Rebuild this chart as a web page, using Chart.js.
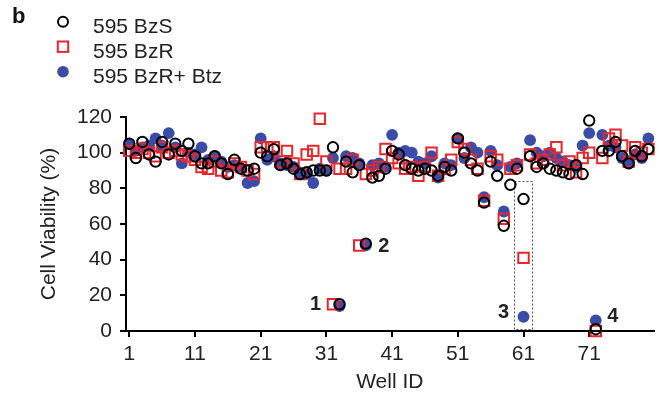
<!DOCTYPE html>
<html>
<head>
<meta charset="utf-8">
<script src="https://cdn.jsdelivr.net/npm/chart.js@4.4.1/dist/chart.umd.min.js"></script>
<style>
  html, body { margin: 0; padding: 0; background: #fff; }
  #wrap { width: 663px; height: 401px; position: relative; }
</style>
</head>
<body>
<div id="wrap"><canvas id="viabilityChart"></canvas></div>
<script>
// well IDs on the plate
var wells = [1, 2, 3, 4, 5, 6, 7, 8, 9, 10, 11, 12, 13, 14, 15, 16, 17, 18, 19, 20,
             21, 22, 23, 24, 25, 26, 27, 28, 29, 30, 31, 32, 33, 34, 35, 36, 37, 38, 39, 40,
             41, 42, 43, 44, 45, 46, 47, 48, 49, 50, 51, 52, 53, 54, 55, 56, 57, 58, 59, 60,
             61, 62, 63, 64, 65, 66, 67, 68, 69, 70, 71, 72, 73, 74, 75, 76, 77, 78, 79, 80];

// cell viability (%) per well
var bzS = [105, 97, 106, 99, 95, 106, 99, 105, 101, 105, 98, 94, 94, 98, 94, 88, 96, 91, 90, 91,
           100, 98, 102, 93, 94, 91, 88, 89, 90, 90, 90, 103, 15, 95, 89, 93, 49, 86, 87, 91,
           101, 99, 93, 91, 90, 91, 90, 87, 92, 90, 108, 100, 94, 90, 72, 95, 87, 59, 82, 91,
           74, 98, 92, 94, 91, 90, 89, 88, 93, 88, 118, 1, 101, 101, 106, 98, 94, 101, 98, 102];

var bzR = [101, 100, 102, 100, 98, 103, 100, 101, 99, 98, 96, 92, 91, 95, 90, 89, 94, 92, 90, 88,
           103, 103, 103, 95, 101, 94, 88, 99, 101, 119, 95, 15, 91, 91, 96, 48, 88, 90, 92, 102,
           97, 94, 91, 92, 87, 92, 100, 87, 91, 96, 106, 102, 96, 91, 73, 98, 96, 63, 91, 93,
           41, 99, 94, 96, 99, 103, 93, 95, 89, 97, 100, 0, 97, 108, 110, 104, 95, 103, 100, 102];

var bzRBtz = [105, 101, 103, 104, 108, 104, 111, 103, 94, 100, 99, 103, 96, 98, 95, 92, 93, 91, 83, 84,
              108, 96, 98, 94, 93, 92, 89, 88, 83, 91, 90, 97, 14, 98, 97, 94, 48, 93, 94, 92,
              110, 100, 101, 100, 95, 94, 98, 86, 94, 93, 108, 97, 103, 100, 75, 101, 93, 67, 92, 94,
              8, 107, 100, 98, 100, 97, 95, 93, 92, 104, 111, 6, 110, 104, 103, 97, 94, 99, 97, 108];

var seriesNames = ['595 BzS', '595 BzR', '595 BzR+ Btz'];
var xTickValues = [1, 11, 21, 31, 41, 51, 61, 71];

// numbered wells that are called out, and the boxed one
var callouts = [
  { text: '1', well: 33, dx: -24, dy: -2 },
  { text: '2', well: 37, dx: 18, dy: 1 },
  { text: '3', well: 61, dx: -20, dy: -4 },
  { text: '4', well: 72, dx: 17, dy: -4 }
];
var boxedWell = 61;

var FONT = "'Liberation Sans', Arial, Helvetica, sans-serif";
var BLUE = '#3b4ca8';
var RED = '#e8262b';

function toPoints(values) {
  return wells.map(function (w, i) { return { x: w, y: values[i] }; });
}

var extras = {
  id: 'extras',
  beforeDatasetsDraw: function (chart) {
    var ctx = chart.ctx, xs = chart.scales.x, ys = chart.scales.y;
    var l = xs.getPixelForValue(boxedWell - 1.4), r = xs.getPixelForValue(boxedWell + 1.4);
    var t = ys.getPixelForValue(84), b = ys.getPixelForValue(1);
    ctx.save();
    ctx.setLineDash([2, 2]);
    ctx.lineWidth = 1;
    ctx.strokeStyle = '#555';
    ctx.strokeRect(Math.round(l) + 0.5, Math.round(t) + 0.5, Math.round(r - l), Math.round(b - t));
    ctx.restore();
  },
  afterDraw: function (chart) {
    var ctx = chart.ctx, xs = chart.scales.x, ys = chart.scales.y;
    ctx.save();
    // panel letter
    ctx.fillStyle = '#111';
    ctx.font = 'bold 22px ' + FONT;
    ctx.textAlign = 'left';
    ctx.textBaseline = 'alphabetic';
    ctx.fillText('b', 12, 23);

    // legend
    var mx = 63, rows = [21.7, 46.7, 71.7];
    ctx.lineWidth = 2;
    ctx.strokeStyle = '#000';
    ctx.beginPath(); ctx.arc(mx, rows[0], 5, 0, Math.PI * 2); ctx.stroke();
    ctx.strokeStyle = RED;
    ctx.strokeRect(mx - 5.2, rows[1] - 5.2, 10.4, 10.4);
    ctx.fillStyle = BLUE;
    ctx.beginPath(); ctx.arc(mx, rows[2], 5.8, 0, Math.PI * 2); ctx.fill();
    ctx.fillStyle = '#222';
    ctx.font = '21px ' + FONT;
    seriesNames.forEach(function (name, i) {
      ctx.fillText(name, 93, rows[i] + 11);
    });

    // callout numbers
    ctx.font = 'bold 20px ' + FONT;
    ctx.textAlign = 'center';
    ctx.textBaseline = 'middle';
    callouts.forEach(function (c) {
      var v = bzRBtz[wells.indexOf(c.well)];
      ctx.fillText(c.text, xs.getPixelForValue(c.well) + c.dx, ys.getPixelForValue(v) + c.dy);
    });
    ctx.restore();
  }
};

var chart = new Chart(document.getElementById('viabilityChart'), {
  type: 'scatter',
  data: {
    datasets: [
      {
        label: seriesNames[0],
        data: toPoints(bzS),
        pointStyle: 'circle',
        pointRadius: 5.2,
        pointBorderWidth: 2,
        pointBorderColor: '#000',
        pointBackgroundColor: 'rgba(0,0,0,0)',
        clip: false
      },
      {
        label: seriesNames[1],
        data: toPoints(bzR),
        pointStyle: 'rect',
        pointRadius: 7.4,
        pointBorderWidth: 2,
        pointBorderColor: RED,
        pointBackgroundColor: 'rgba(0,0,0,0)',
        clip: false
      },
      {
        label: seriesNames[2],
        data: toPoints(bzRBtz),
        pointStyle: 'circle',
        pointRadius: 5.9,
        pointBorderWidth: 0,
        pointBorderColor: BLUE,
        pointBackgroundColor: BLUE,
        clip: false
      }
    ]
  },
  options: {
    responsive: true,
    maintainAspectRatio: false,
    animation: false,
    events: [],
    layout: { padding: { top: 117, right: 3, left: 0, bottom: 0 } },
    plugins: {
      legend: { display: false },
      tooltip: { enabled: false }
    },
    scales: {
      x: {
        type: 'linear',
        min: 0.5,
        max: 80.8,
        afterBuildTicks: function (scale) {
          scale.ticks = xTickValues.map(function (v) { return { value: v }; });
        },
        afterFit: function (scale) { scale.height = 70; },
        grid: { drawOnChartArea: false, drawTicks: true, tickLength: 6, color: '#000', lineWidth: 2 },
        border: { display: true, color: '#000', width: 2 },
        ticks: { color: '#222', padding: 5, maxRotation: 0, font: { family: FONT, size: 21 } },
        title: { display: true, text: 'Well ID', color: '#222', padding: { top: 0, bottom: 6 },
                 font: { family: FONT, size: 21 } }
      },
      y: {
        min: 0,
        max: 120,
        ticks: { stepSize: 20, color: '#222', padding: 8, font: { family: FONT, size: 21 } },
        afterFit: function (scale) { scale.width = 126; },
        grid: { drawOnChartArea: false, drawTicks: true, tickLength: 6, color: '#000', lineWidth: 2 },
        border: { display: true, color: '#000', width: 2 },
        title: { display: true, text: 'Cell Viability (%)', color: '#222', padding: { top: 37, bottom: 0 },
                 font: { family: FONT, size: 21 } }
      }
    }
  },
  plugins: [extras]
});
</script>
</body>
</html>
